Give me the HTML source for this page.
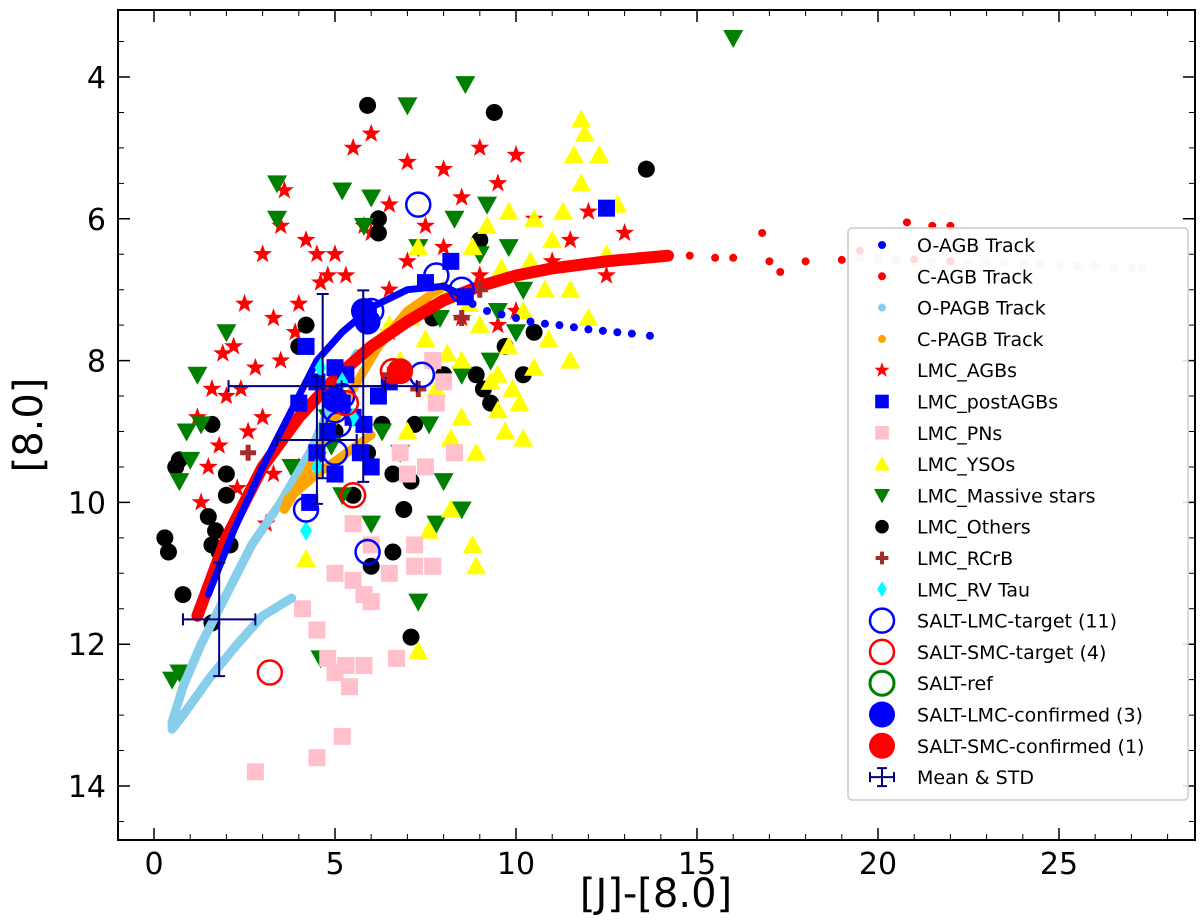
<!DOCTYPE html>
<html><head><meta charset="utf-8"><style>
body{margin:0;background:#fff;}
svg{display:block;font-family:"DejaVu Sans","Liberation Sans",sans-serif;}
</style></head><body>
<svg id="chart" width="1200" height="921" viewBox="0 0 1200 921" xmlns="http://www.w3.org/2000/svg">
<defs><clipPath id="clip"><rect x="118" y="10" width="1077" height="830"/></clipPath></defs>
<rect x="0" y="0" width="1200" height="921" fill="#fff"/>
<g id="plot" clip-path="url(#clip)"></g>
<rect x="118" y="10" width="1077" height="830" fill="none" stroke="#000" stroke-width="2"/>
<g id="ticks"></g>
<text x="656" y="907" font-size="40" text-anchor="middle">[J]-[8.0]</text>
<text x="42" y="425" font-size="40" text-anchor="middle" transform="rotate(-90 42 425)">[8.0]</text>
<g id="legend"></g>
</svg>
<script>
const xTicks=[0,5,10,15,20,25];
const yTicks=[4,6,8,10,12,14];
const oAgbTrack=[[1.5,11.3],[2.2,10.4],[3,9.5],[3.8,8.7],[4.5,8.0],[5.2,7.6],[6,7.25],[7,7.0],[8,6.95],[8.6,7.1]];
const oAgbTail=[[8.8,7.2],[9.2,7.3],[9.6,7.35],[10,7.4],[10.4,7.45],[10.8,7.48],[11.2,7.5],[11.6,7.53],[12,7.56],[12.4,7.58],[12.8,7.6],[13.2,7.62],[13.7,7.65]];
const cAgbTrack=[[1.2,11.6],[2,10.5],[3,9.5],[4,8.8],[5,8.25],[6,7.8],[7,7.45],[8,7.15],[9,6.95],[10,6.8],[11,6.7],[12.5,6.6],[14.2,6.52]];
const cAgbTail=[[14.8,6.52],[15.5,6.55],[16,6.55],[16.8,6.2],[17,6.6],[17.3,6.75],[18,6.6],[19,6.58],[19.5,6.45],[20.8,6.05],[21.5,6.1],[22,6.1],[21,6.57],[22,6.6]];
const cAgbPink=[[19.5,6.55],[20,6.57],[20.5,6.58],[21,6.59],[21.5,6.6],[22,6.6],[22.5,6.61],[23,6.62],[23.5,6.62],[24,6.63],[24.5,6.64],[25,6.65],[25.5,6.66],[26,6.67],[26.5,6.68],[27,6.69],[27.3,6.7]];
const oPagbTrack=[[5.6,7.9],[5,8.5],[4.3,9.3],[3.5,10.0],[2.7,10.6],[2,11.3],[1.3,12.0],[0.8,12.6],[0.5,13.1],[0.5,13.2],[0.8,13.0],[1.5,12.5],[2.3,12.0],[3,11.6],[3.8,11.35]];
const cPagbTrack=[[8,6.95],[7,7.3],[6.2,7.8],[5.5,8.4],[4.8,9.0],[4.2,9.6],[3.6,10.1],[3.7,9.95],[4.5,9.6],[5.2,9.35],[6,9.05]];
const agbX=[1.5,2,2.5,2.2,3,3.5,2.6,1.8,2.3,3,3.3,1.3,4,4.5,5,5.5,6,6.5,7,7.5,8,8.5,9,9.5,10,10.5,11,11.5,12,6,6.5,7,8,9,10,4.8,3.5,3.9,2.4,2.8,1.9,3.1,4,6.5,8.5,9.5,7.5,5.8,4.2,3.3,12.5,13,2,1.6,1.2,5.3,4.6,3.6];
const agbY=[9.5,8.5,7.2,7.8,6.5,6.1,9,9.2,9.8,8.8,9.6,10,7.2,6.5,6.5,5,6.2,5.8,5.2,6.1,5.3,5.7,5,5.5,5.1,6,6.6,6.3,5.9,4.8,7,6.6,6.4,6.8,7.3,6.8,8,7.6,8.4,8.1,7.9,10.3,9.5,7.6,7.4,7.5,7.2,6.1,6.3,7.4,6.8,6.2,10.5,8.4,8.8,6.8,6.9,5.6];
const postX=[4.2,4.5,5,5.2,4.8,5.5,5.8,6,5.7,4.5,4.3,6.2,7.5,8.2,8.6,12.5,4,5,6.5,5.3];
const postY=[7.8,8.3,8.1,8.6,9,8.8,8.9,9.5,9.3,9.3,10,8.5,6.9,6.6,7.1,5.85,8.6,9.6,8.3,8.2];
const pnX=[2.8,4.1,4.5,4.8,5,5.3,5.5,5.8,6,6,5.5,6.5,6.7,7.2,7.7,7.5,7.8,8,7,6.8,5.4,5.2,4.5,5,5.8,7.7,8.3,7.2];
const pnY=[13.8,11.5,11.8,12.2,11,12.3,11.1,11.3,11.4,10.6,10.3,11,12.2,10.9,10.9,9.5,8.6,8.3,9.6,9.3,12.6,13.3,13.6,12.4,12.3,8,9.3,10.6];
const ysoX=[11.8,11.9,11.6,12.3,11.8,12.8,11.3,10.5,11,9.8,9.2,8.8,9.6,10.4,11.5,12,10.2,9.8,9.5,10.5,11.5,10.1,9.7,10.2,8.5,8.9,8.2,7.8,8.1,7.5,7.1,6.5,7.3,6.8,8.5,9,8.7,8,9.3,7.6,8.8,8.9,7.3,4.2,5.8,9.5,10.8,12.5,8.2,7,9.9,10.9];
const ysoY=[4.6,4.8,5.1,5.1,5.5,5.8,5.9,6,6.3,5.9,6.1,6.4,6.7,6.6,7,7.4,7.3,7.8,8.2,8.1,8,8.6,9,9.1,8.8,9.3,9.1,8.4,7.9,7.7,7.4,7.5,6.4,8,8,7.5,7.2,7,8.3,10.4,10.6,10.9,12.1,10.8,8.9,8.7,7,6.5,10.1,9,8.4,7.7];
const msX=[16,7,8.6,3.4,3.4,5.2,6,5.8,7.3,8.3,9,9.2,9.8,10.2,9.5,10,7.9,8.5,9.3,2,1.2,0.9,1.3,0.7,1,4.5,5.2,3.8,4.8,6.3,6.8,7.6,8,8.5,6,7.8,4.6,0.5,0.7,7.3,4.9];
const msY=[3.45,4.4,4.1,5.5,6,5.6,5.7,6.1,6.4,6,6.5,5.8,6.4,7,7.3,7.6,7.4,8.2,8,7.6,8.2,9,8.9,9.7,9.4,9.4,9.9,9.5,8.8,9,9.3,8.9,9.7,10.1,10.3,10.3,12.2,12.5,12.4,11.4,9.2];
const othX=[5.9,9.4,13.6,6.2,6.2,9,4,4.2,7.7,10.5,9.7,10.2,9.1,9.3,8.9,7.2,5,5.9,6.6,5.5,7.1,6.9,6,6.6,7.1,1.6,0.8,0.3,0.4,1.5,1.7,1.6,1.8,2.1,2,0.7,0.6,1.6,2,8,6.3];
const othY=[4.4,4.5,5.3,6,6.2,6.3,7.8,7.5,7.4,7.6,7.8,8.2,8.4,8.6,8.2,8.9,9,9.3,9.6,9.9,9.7,10.1,10.9,10.7,11.9,11.7,11.3,10.5,10.7,10.2,10.4,10.6,10.7,10.6,9.9,9.4,9.5,8.9,9.6,8.2,8.9];
const rcrbX=[2.6,6.5,7.3,8.5,9];
const rcrbY=[9.3,8.2,8.4,7.4,7];
const rvX=[4.2,4.5,4.6,5.5,4.8,5.2];
const rvY=[10.4,9.5,8.1,8.8,8.6,8.3];
const lmcTgtX=[7.3,7.8,8.5,7.4,5,5,4.2,5.9,5.2,6,5.1];
const lmcTgtY=[5.8,6.8,7,8.2,8.7,9.3,10.1,10.7,8.5,7.3,8.9];
const smcTgtX=[3.2,5.5,6.6,5.3];
const smcTgtY=[12.4,9.9,8.15,8.6];
const lmcConfX=[5.8,5,5.9];
const lmcConfY=[7.3,8.55,7.45];
const smcConfX=[6.8];
const smcConfY=[8.15];
const errX=[1.8,4.66,4.5,5.78];
const errY=[11.65,8.36,9.12,8.36];
const errXerr=[1.0,2.6,1.1,0.6];
const errYerr=[0.8,1.3,0.9,1.35];

const NS="http://www.w3.org/2000/svg";
const px=x=>154+36.2*x, py=y=>77+70.9*(y-4);
const plot=document.getElementById('plot'), ticks=document.getElementById('ticks'), legend=document.getElementById('legend');
function mk(tag,attrs,parent){const e=document.createElementNS(NS,tag);for(const k in attrs)e.setAttribute(k,attrs[k]);parent.appendChild(e);return e;}
function starPts(cx,cy,r){let p=[];for(let i=0;i<10;i++){const a=-Math.PI/2+i*Math.PI/5,rr=i%2?r*0.4:r;p.push((cx+rr*Math.cos(a)).toFixed(1)+','+(cy+rr*Math.sin(a)).toFixed(1));}return p.join(' ');}
function marker(type,cx,cy,parent,s){
  s=s||1;let e;
  if(type==='star'){e=mk('polygon',{points:starPts(cx,cy,10*s),fill:'red'},parent);}
  else if(type==='sq'||type==='pn'){e=mk('rect',{x:cx-8.5*s,y:cy-8.5*s,width:17*s,height:17*s,fill:type==='sq'?'#0000ff':'pink'},parent);}
  else if(type==='up'){e=mk('polygon',{points:`${cx},${cy-10*s} ${cx-10*s},${cy+8*s} ${cx+10*s},${cy+8*s}`,fill:'yellow'},parent);}
  else if(type==='down'){e=mk('polygon',{points:`${cx},${cy+10*s} ${cx-10*s},${cy-8*s} ${cx+10*s},${cy-8*s}`,fill:'green'},parent);}
  else if(type==='oth'){e=mk('circle',{cx:cx,cy:cy,r:8.5*s,fill:'#000'},parent);}
  else if(type==='plus'){e=mk('path',{d:`M${cx-8*s},${cy}H${cx+8*s}M${cx},${cy-8*s}V${cy+8*s}`,stroke:'brown',"stroke-width":5*s},parent);}
  else if(type==='dia'){e=mk('polygon',{points:`${cx},${cy-10*s} ${cx+6*s},${cy} ${cx},${cy+10*s} ${cx-6*s},${cy}`,fill:'cyan'},parent);}
  else if(type==='lt'){e=mk('circle',{cx:cx,cy:cy,r:12*s,fill:'none',stroke:'#0000ff','stroke-width':2.5},parent);}
  else if(type==='st'){e=mk('circle',{cx:cx,cy:cy,r:12*s,fill:'none',stroke:'red','stroke-width':2.5},parent);}
  else if(type==='rt'){e=mk('circle',{cx:cx,cy:cy,r:12*s,fill:'none',stroke:'green','stroke-width':3},parent);}
  else if(type==='lc'){e=mk('circle',{cx:cx,cy:cy,r:13*s,fill:'#0000ff'},parent);}
  else if(type==='sc'){e=mk('circle',{cx:cx,cy:cy,r:13*s,fill:'red'},parent);}
  return e;
}
function track(pts,color,w,name){
  const d=pts.map((p,i)=>(i?'L':'M')+px(p[0]).toFixed(1)+','+py(p[1]).toFixed(1)).join('');
  const e=mk('path',{d:d,fill:'none',stroke:color,'stroke-width':w,'stroke-linecap':'round','stroke-linejoin':'round'},plot);
  
  
}
function dots(pts,color,r,name){
  pts.forEach(p=>{const c=mk('circle',{cx:px(p[0]),cy:py(p[1]),r:r,fill:color},plot);
    
    });
}
function series(xs,ys,type,name,s){
  xs.forEach((x,i)=>{const e=marker(type,px(x),py(ys[i]),plot,s);
    
    });
}
series(agbX,agbY,'star','lmc-agb-point');
series(othX,othY,'oth','lmc-others-point');
series(msX,msY,'down','lmc-massive-star-point');
series(ysoX,ysoY,'up','lmc-yso-point');
series(pnX,pnY,'pn','lmc-pn-point');
track(oPagbTrack,'skyblue',9,'o-pagb-track');
track(cPagbTrack,'orange',9,'c-pagb-track');
dots(cAgbPink,'pink',4.5,'c-agb-track-tail-point');
dots(cAgbTail,'red',4,'c-agb-track-sparse-point');
track(cAgbTrack,'red',12,'c-agb-track');
track(oAgbTrack,'#0000ff',7,'o-agb-track');
dots(oAgbTail,'#0000ff',4,'o-agb-track-tail-point');
series(postX,postY,'sq','lmc-postagb-point');
series(rcrbX,rcrbY,'plus','lmc-rcrb-point');
series(rvX,rvY,'dia','lmc-rvtau-point');
series(lmcTgtX,lmcTgtY,'lt','salt-lmc-target');
series(smcTgtX,smcTgtY,'st','salt-smc-target');
series(lmcConfX,lmcConfY,'lc','salt-lmc-confirmed');
series(smcConfX,smcConfY,'sc','salt-smc-confirmed');
errX.forEach((x,i)=>{
  const cx=px(x),cy=py(errY[i]),x0=px(x-errXerr[i]),x1=px(x+errXerr[i]),y0=py(errY[i]-errYerr[i]),y1=py(errY[i]+errYerr[i]);
  const e=mk('path',{d:`M${x0},${cy}H${x1}M${cx},${y0}V${y1}M${x0},${cy-6}V${cy+6}M${x1},${cy-6}V${cy+6}M${cx-6},${y0}H${cx+6}M${cx-6},${y1}H${cx+6}`,stroke:'navy','stroke-width':2,fill:'none'},plot);
  
  
});
xTicks.forEach(t=>{const x=px(t);
  mk('path',{d:`M${x},840v-12M${x},10v12`,stroke:'#000','stroke-width':1.5},ticks);
  const tx=mk('text',{x:x,y:874,'font-size':30,'text-anchor':'middle'},ticks);tx.textContent=t;
  
  });
for(let t=0;t<=28;t++){if(t%5){const x=px(t);mk('path',{d:`M${x},840v-6M${x},10v6`,stroke:'#000','stroke-width':1},ticks);}}
yTicks.forEach(t=>{const y=py(t);
  mk('path',{d:`M118,${y}h12M1195,${y}h-12`,stroke:'#000','stroke-width':1.5},ticks);
  const tx=mk('text',{x:106,y:y+11,'font-size':30,'text-anchor':'end'},ticks);tx.textContent=t;
  
  });
for(let t=3.5;t<14.8;t+=0.5){if(Math.abs(t-Math.round(t/2)*2)>0.01){const y=py(t);mk('path',{d:`M118,${y}h6M1195,${y}h-6`,stroke:'#000','stroke-width':1},ticks);}}
const legLabels=['O-AGB Track','C-AGB Track','O-PAGB Track','C-PAGB Track','LMC_AGBs','LMC_postAGBs','LMC_PNs','LMC_YSOs','LMC_Massive stars','LMC_Others','LMC_RCrB','LMC_RV Tau','SALT-LMC-target (11)','SALT-SMC-target (4)','SALT-ref','SALT-LMC-confirmed (3)','SALT-SMC-confirmed (1)','Mean & STD'];
const legTypes=['d:#0000ff','d:red','d:skyblue','d:orange','star','sq','pn','up','down','oth','plus','dia','lt','st','rt','lc','sc','err'];
mk('rect',{x:848,y:228,width:340,height:572,fill:'#fff','fill-opacity':0.85,stroke:'#ccc','stroke-width':1.5,rx:4},legend);
legLabels.forEach((l,i)=>{
  const y=245+i*31.3, mx=882;
  const g=mk('g',{},legend);
  
  
  const t=legTypes[i];
  if(t.startsWith('d:'))mk('circle',{cx:mx,cy:y,r:4,fill:t.slice(2)},g);
  else if(t==='err'){mk('path',{d:`M${mx-12},${y}H${mx+12}M${mx},${y-9}V${y+9}M${mx-12},${y-5}V${y+5}M${mx+12},${y-5}V${y+5}M${mx-5},${y-9}H${mx+5}M${mx-5},${y+9}H${mx+5}`,stroke:'navy','stroke-width':2,fill:'none'},g);}
  else marker(t,mx,y,g,(t==='lt'||t==='st'||t==='rt'||t==='lc'||t==='sc')?1:0.8);
  const tx=mk('text',{x:917,y:y+7,'font-size':19},g);tx.textContent=l;
});
</script>
</body></html>
